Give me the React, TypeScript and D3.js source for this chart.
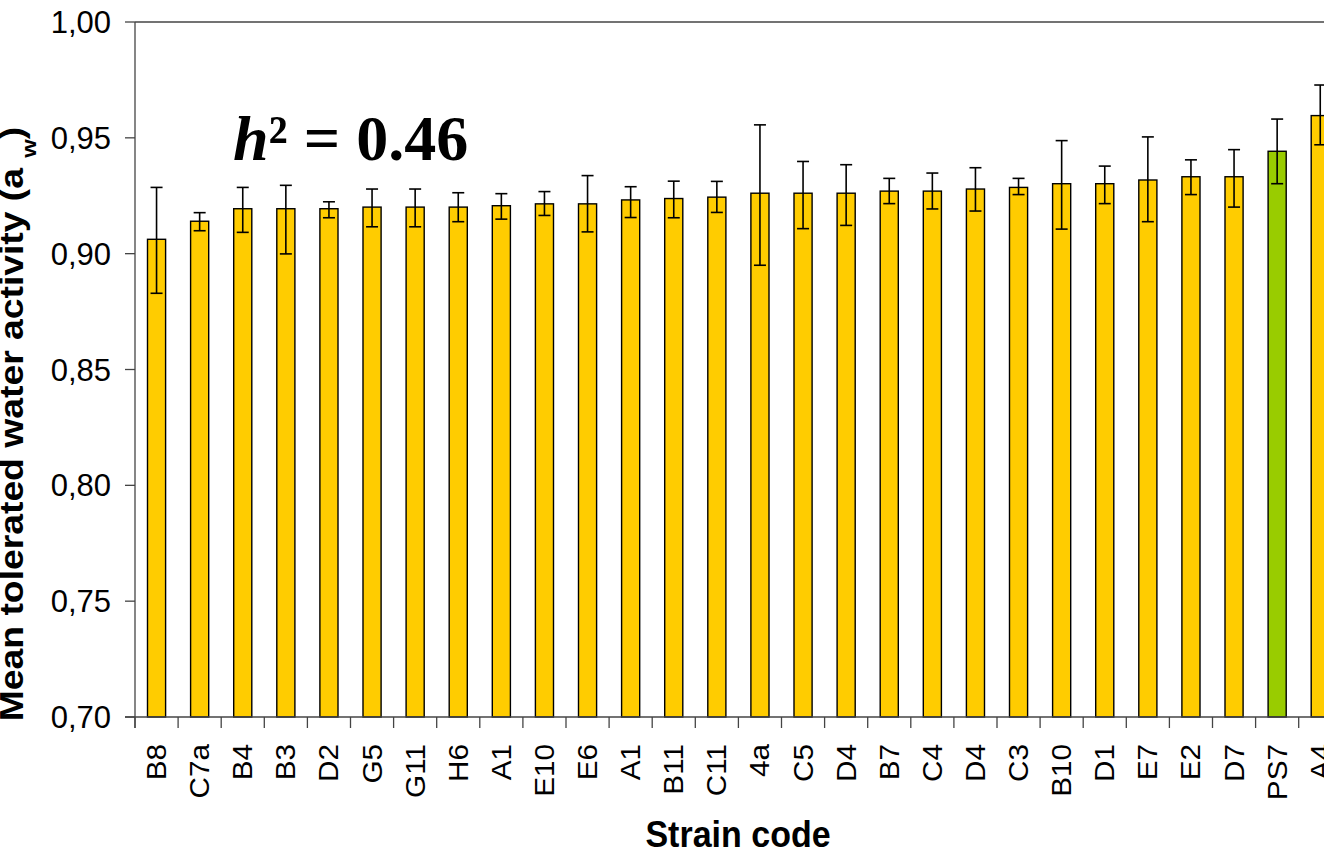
import React from "react";
import * as d3 from "d3";

const strains = ["B8","C7a","B4","B3","D2","G5","G11","H6","A1","E10","E6","A1","B11","C11","4a","C5","D4","B7","C4","D4","C3","B10","D1","E7","E2","D7","PS7","A4"];
const means = [0.9062,0.9140,0.9194,0.9194,0.9194,0.9201,0.9201,0.9201,0.9207,0.9215,0.9215,0.9232,0.9238,0.9244,0.9261,0.9261,0.9261,0.9270,0.9270,0.9279,0.9286,0.9302,0.9302,0.9318,0.9332,0.9332,0.9442,0.9596];
const errPlus = [0.0224,0.0037,0.0092,0.0101,0.0030,0.0078,0.0078,0.0062,0.0052,0.0053,0.0122,0.0057,0.0075,0.0068,0.0295,0.0137,0.0123,0.0055,0.0078,0.0092,0.0039,0.0186,0.0076,0.0186,0.0073,0.0117,0.0139,0.0132];
const errMinus = [0.0233,0.0041,0.0102,0.0195,0.0039,0.0085,0.0085,0.0063,0.0058,0.0050,0.0121,0.0076,0.0083,0.0066,0.0311,0.0153,0.0139,0.0054,0.0077,0.0095,0.0031,0.0196,0.0086,0.0180,0.0077,0.0131,0.0140,0.0126];
const highlight = ["PS7"];
const yTicks = [0.70,0.75,0.80,0.85,0.90,0.95,1.00];

const W = 1324, H = 854;
const LEFT = 135, TOP = 22, BOTTOM = 717;
const STEP = 43.1;

export default function App() {
  const idx = strains.map((_, i) => i);
  const x = d3.scaleBand<number>().domain(idx).range([LEFT, LEFT + STEP * strains.length]).padding(0);
  const y = d3.scaleLinear().domain([0.70, 1.00]).range([BOTTOM, TOP]);
  const bw = x.bandwidth() * 0.42;
  const fmt = (v: number) => d3.format(".2f")(v).replace(".", ",");
  const sans = "'Liberation Sans', Arial, Helvetica, sans-serif";

  return (
    <svg width={W} height={H} style={{ position: "absolute", left: 0, top: 0, background: "#fff", overflow: "hidden" }}>
      {/* bars */}
      {idx.map(i => {
        const cx = x(i)! + x.bandwidth() / 2;
        return (
          <rect key={"b" + i} x={cx - bw / 2} y={y(means[i])} width={bw} height={y(0.70) - y(means[i])}
            fill={highlight.includes(strains[i]) ? "#99CC00" : "#FFCC00"} stroke="#000" strokeWidth={1.4} />
        );
      })}
      {/* error bars */}
      {idx.map(i => {
        const cx = x(i)! + x.bandwidth() / 2;
        const yt = y(means[i] + errPlus[i]);
        const yb = y(means[i] - errMinus[i]);
        return (
          <g key={"e" + i} stroke="#000" strokeWidth={1.6}>
            <line x1={cx} x2={cx} y1={yt} y2={yb} />
            <line x1={cx - 6} x2={cx + 6} y1={yt} y2={yt} />
            <line x1={cx - 6} x2={cx + 6} y1={yb} y2={yb} />
          </g>
        );
      })}
      {/* axes */}
      <g stroke="#444" strokeWidth={1.3}>
        <line x1={LEFT} x2={LEFT} y1={TOP} y2={BOTTOM + 11} />
        <line x1={LEFT - 10} x2={W} y1={BOTTOM} y2={BOTTOM} />
        <line x1={LEFT} x2={W} y1={TOP} y2={TOP} />
        {yTicks.map(t => (
          <line key={"yt" + t} x1={LEFT - 10} x2={LEFT} y1={y(t)} y2={y(t)} />
        ))}
        {idx.map(i => (
          <line key={"xt" + i} x1={x(i)!} x2={x(i)!} y1={BOTTOM} y2={BOTTOM + 11} />
        ))}
      </g>
      {yTicks.map(t => (
        <text key={"yl" + t} x={111} y={y(t)} dy="0.36em" textAnchor="end" fontFamily={sans} fontSize={31} fill="#000">{fmt(t)}</text>
      ))}
      {idx.map(i => {
        const cx = x(i)! + x.bandwidth() / 2;
        return (
          <text key={"xl" + i} transform={`translate(${cx + 9.5},${744}) rotate(-90) scale(1.1,1)`} textAnchor="end"
            fontFamily={sans} fontSize={27} fill="#000">{strains[i]}</text>
        );
      })}
      {/* axis titles */}
      <text transform={`translate(23,424) rotate(-90) scale(1.13,1)`} textAnchor="middle" fontFamily={sans} fontWeight="bold" fontSize={33} fill="#000">
        Mean tolerated water activity (a <tspan fontSize={21} dy={13}>w</tspan><tspan dy={-13}>)</tspan>
      </text>
      <text transform={`translate(738,847) scale(1,1.1)`} textAnchor="middle" fontFamily={sans} fontWeight="bold" fontSize={34} fill="#000">Strain code</text>
      <text x={233} y={160} fontFamily="'Liberation Serif', 'Times New Roman', serif" fontWeight="bold" fontSize={64} fill="#000">
        <tspan fontStyle="italic">h</tspan>² = 0.46
      </text>
    </svg>
  );
}
